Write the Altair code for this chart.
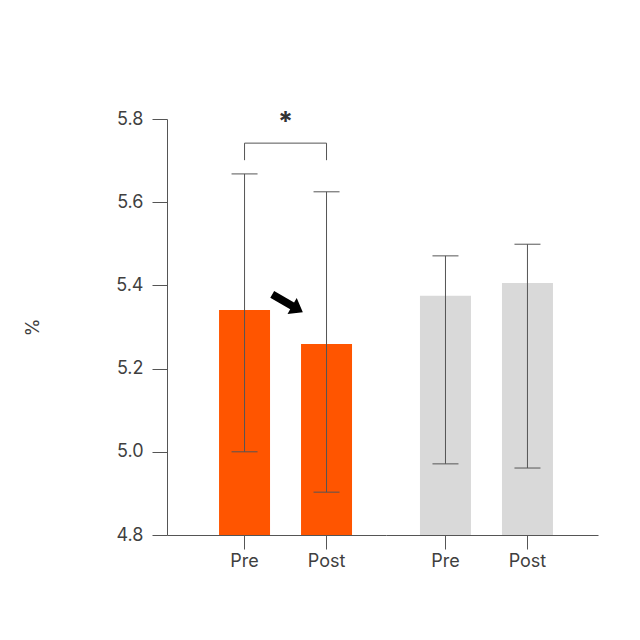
import altair as alt
import pandas as pd

# ---- data ----
times = ["Pre", "Post"]
treat_mean = [5.341, 5.259]
treat_hi = [5.668, 5.625]
treat_lo = [5.000, 4.903]
ctrl_mean = [5.375, 5.406]
ctrl_hi = [5.471, 5.499]
ctrl_lo = [4.971, 4.961]
y_ticks = [4.8, 5.0, 5.2, 5.4, 5.6, 5.8]
bracket_low = 5.701
bracket_high = 5.742
star_y = 5.772
arrow_y = 5.357

ORANGE = "#FF5500"
GRAY = "#D9D9D9"
INK = "#555555"
TEXT = "#3f3f3f"
FONT = "Inter"

yscale = alt.Scale(domain=[y_ticks[0], y_ticks[-1]], nice=False, zero=False)


def panel(means, his, los, color, width, pad_outer, align, show_y, annotate):
    df = pd.DataFrame({"time": times, "mean": means, "hi": his, "lo": los})
    xs = alt.X(
        "time:N",
        sort=times,
        scale=alt.Scale(paddingInner=0.378, paddingOuter=pad_outer, align=align),
        axis=alt.Axis(title=None, labelAngle=0, tickSize=14, labelPadding=3,
                      labelFontSize=18, labelColor=TEXT, domainColor=INK,
                      tickColor=INK, labelFont=FONT),
    )
    if show_y:
        yaxis = alt.Axis(values=y_ticks, format=".1f", title="%", tickSize=15,
                         labelPadding=9, labelFontSize=18, labelColor=TEXT,
                         domainColor=INK, tickColor=INK, grid=False,
                         titleFontSize=18, titleFontWeight="normal",
                         titleColor=TEXT, titlePadding=73, labelFont=FONT,
                         titleFont=FONT)
    else:
        yaxis = None
    base = alt.Chart(df)
    bars = base.mark_bar(color=color).encode(
        x=xs, y=alt.Y("mean:Q", scale=yscale, axis=yaxis),
        y2=alt.datum(y_ticks[0]))
    err = base.mark_rule(color=INK, strokeWidth=1).encode(
        x=xs, y=alt.Y("lo:Q", scale=yscale), y2="hi:Q")
    cap_hi = base.mark_tick(color=INK, thickness=1, size=26, opacity=1,
                            orient="horizontal").encode(
        x=xs, y=alt.Y("hi:Q", scale=yscale))
    cap_lo = base.mark_tick(color=INK, thickness=1, size=26, opacity=1,
                            orient="horizontal").encode(
        x=xs, y=alt.Y("lo:Q", scale=yscale))
    layers = [bars, err, cap_hi, cap_lo]
    if annotate:
        br = pd.DataFrame({
            "time": ["Pre", "Pre", "Post", "Post"],
            "v": [bracket_low, bracket_high, bracket_high, bracket_low],
            "o": [0, 1, 2, 3],
        })
        bracket = alt.Chart(br).mark_line(color=INK, strokeWidth=1).encode(
            x=xs, y=alt.Y("v:Q", scale=yscale), order="o:Q")
        ann = pd.DataFrame({"time": ["Pre"], "star": [star_y],
                            "arrow": [arrow_y], "label": ["*"]})
        star = alt.Chart(ann).mark_text(
            fontSize=27, fontWeight="bold", color="#333333", xOffset=41,
            baseline="alphabetic", font=FONT).encode(
            x=xs, y=alt.Y("star:Q", scale=yscale), text="label:N")
        arrow_path = ("M-1,-0.22L0.3,-0.22L0.3,-0.52L1,0L0.3,0.52L0.3,0.22L-1,0.22Z")
        arrow = alt.Chart(ann).mark_point(
            shape=arrow_path, filled=True, fill="#000000", strokeWidth=0,
            opacity=1, size=1250, angle=30, xOffset=43).encode(
            x=xs, y=alt.Y("arrow:Q", scale=yscale))
        layers += [bracket, star, arrow]
    return alt.layer(*layers).properties(width=width, height=416)


p1 = panel(treat_mean, treat_hi, treat_lo, ORANGE, 219, 0.5245, 0.605, True, True)
p2 = panel(ctrl_mean, ctrl_hi, ctrl_lo, GRAY, 212, 0.4818, 0.430, False, False)

chart = (
    alt.hconcat(p1, p2, spacing=0)
    .resolve_scale(x="independent")
    .properties(padding={"left": 16, "top": 100, "right": 10, "bottom": 10})
    .configure(font=FONT, view=alt.ViewConfig(stroke="transparent", strokeWidth=0))
)

chart.save("out.html", embed_options={"renderer": "svg", "actions": False})
